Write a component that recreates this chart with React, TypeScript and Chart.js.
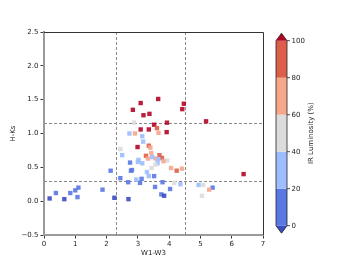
import React, { useEffect, useRef } from "react";
import { Chart, registerables } from "chart.js";

Chart.register(...registerables);

// ---- data ----
const W1W3 = [
  3.65, 3.09, 4.47, 4.42, 2.84, 3.37, 3.18, 2.88, 3.93, 5.18,
  3.52, 3.61, 3.09, 3.35, 3.92, 2.73, 2.91, 3.66, 3.14, 3.17,
  2.44, 2.99, 3.35, 3.40, 2.50, 3.43, 3.26, 3.32, 3.69, 3.77,
  3.57, 3.46, 3.66, 3.94, 3.82, 3.02, 3.00, 3.14, 2.75, 3.63,
  3.56, 3.44, 4.06, 4.24, 4.41, 2.81, 2.78, 2.13, 3.29, 3.35,
  3.52, 6.38, 2.44, 2.95, 3.12, 2.69, 3.07, 3.79, 4.16, 4.36,
  3.55, 4.03, 4.94, 5.09, 5.39, 5.28, 5.05, 3.75, 3.84, 1.87,
  2.25, 2.70, 0.18, 0.38, 0.65, 0.84, 1.00, 1.10, 1.07,
];
const HKS = [
  1.51, 1.45, 1.44, 1.36, 1.35, 1.29, 1.27, 1.16, 1.16, 1.18,
  1.13, 1.08, 1.06, 1.06, 1.02, 1.00, 1.00, 1.01, 0.96, 0.88,
  0.77, 0.80, 0.82, 0.79, 0.68, 0.71, 0.67, 0.63, 0.68, 0.64,
  0.63, 0.65, 0.62, 0.60, 0.59, 0.61, 0.58, 0.56, 0.57, 0.56,
  0.54, 0.49, 0.49, 0.45, 0.48, 0.46, 0.45, 0.45, 0.43, 0.37,
  0.37, 0.40, 0.34, 0.32, 0.33, 0.28, 0.27, 0.28, 0.27, 0.25,
  0.21, 0.18, 0.24, 0.24, 0.20, 0.17, 0.08, 0.10, 0.08, 0.17,
  0.05, 0.03, 0.04, 0.12, 0.03, 0.12, 0.16, 0.20, 0.06,
];
const IR_LUM = [
  105, 105, 105, 105, 105, 105, 105, 50, 105, 105,
  105, 90, 105, 105, 105, 30, 70, 70, 30, 30,
  55, 105, 90, 70, 30, 70, 90, 70, 90, 90,
  70, 30, 30, 50, 70, 30, 30, 30, 10, 30,
  50, 50, 70, 90, 70, 10, 10, 10, 35, 30,
  10, 105, 10, 30, 10, 10, 10, 10, 55, 30,
  10, 10, 30, 55, 10, 70, 50, 10, -3, 10,
  -3, -3, -3, 10, -3, 10, 10, 10, 10,
];
const CBAR_BOUNDS = [0, 20, 40, 60, 80, 100];
const VLINES = [2.3, 4.5];
const HLINES = [0.3, 1.15];
const X_LABEL = "W1-W3";
const Y_LABEL = "H-Ks";
const CBAR_LABEL = "IR Luminosity (%)";

// ---- styling ----
const UNDER = "#3b4cc0";
const OVER = "#b40426";
const BIN_COLORS = ["#5a78e4", "#9dbdff", "#dcdcdc", "#f6a789", "#dd5e4a"];
const FONT = "'DejaVu Sans', sans-serif";

function colorFor(v: number): string {
  if (v < CBAR_BOUNDS[0]) return UNDER;
  if (v > CBAR_BOUNDS[CBAR_BOUNDS.length - 1]) return OVER;
  for (let i = 0; i < CBAR_BOUNDS.length - 1; i++) {
    if (v >= CBAR_BOUNDS[i] && v < CBAR_BOUNDS[i + 1]) return BIN_COLORS[i];
  }
  return BIN_COLORS[BIN_COLORS.length - 1];
}

function withAlpha(hex: string, a: number): string {
  const r = parseInt(hex.slice(1, 3), 16);
  const g = parseInt(hex.slice(3, 5), 16);
  const b = parseInt(hex.slice(5, 7), 16);
  return `rgba(${r},${g},${b},${a})`;
}

const overlayPlugin = {
  id: "overlay",
  beforeDatasetsDraw(chart: any) {
    const { ctx, chartArea, scales } = chart;
    const xs = scales.x;
    const ys = scales.y;
    ctx.save();
    ctx.strokeStyle = "#8a8a8a";
    ctx.lineWidth = 1;
    ctx.setLineDash([3, 2]);
    for (const v of VLINES) {
      const px = Math.round(xs.getPixelForValue(v)) + 0.5;
      ctx.beginPath();
      ctx.moveTo(px, chartArea.top);
      ctx.lineTo(px, chartArea.bottom);
      ctx.stroke();
    }
    for (const v of HLINES) {
      const py = Math.round(ys.getPixelForValue(v)) + 0.5;
      ctx.beginPath();
      ctx.moveTo(chartArea.left, py);
      ctx.lineTo(chartArea.right, py);
      ctx.stroke();
    }
    ctx.restore();
  },
  afterDraw(chart: any) {
    const { ctx, chartArea } = chart;
    ctx.save();
    // top and right spines
    ctx.strokeStyle = "#333333";
    ctx.lineWidth = 1;
    ctx.setLineDash([]);
    ctx.beginPath();
    ctx.moveTo(chartArea.left, chartArea.top + 0.5);
    ctx.lineTo(chartArea.right + 0.5, chartArea.top + 0.5);
    ctx.lineTo(chartArea.right + 0.5, chartArea.bottom);
    ctx.stroke();

    // axis labels
    ctx.fillStyle = "#222";
    ctx.font = `7px ${FONT}`;
    ctx.textAlign = "center";
    ctx.textBaseline = "middle";
    ctx.fillText(X_LABEL, (chartArea.left + chartArea.right) / 2, 253);
    ctx.save();
    ctx.translate(13.5, (chartArea.top + chartArea.bottom) / 2);
    ctx.rotate(-Math.PI / 2);
    ctx.fillText(Y_LABEL, 0, 0);
    ctx.restore();

    // colorbar
    const cx0 = 276;
    const cx1 = 287;
    const y0 = 225.7; // value 0
    const y100 = 40.7; // value 100
    const vmin = CBAR_BOUNDS[0];
    const vmax = CBAR_BOUNDS[CBAR_BOUNDS.length - 1];
    const yFor = (v: number) => y0 + ((v - vmin) / (vmax - vmin)) * (y100 - y0);
    for (let i = 0; i < CBAR_BOUNDS.length - 1; i++) {
      const ya = yFor(CBAR_BOUNDS[i]);
      const yb = yFor(CBAR_BOUNDS[i + 1]);
      ctx.fillStyle = BIN_COLORS[i];
      ctx.fillRect(cx0, yb, cx1 - cx0, ya - yb);
    }
    const arrowH = 7.5;
    ctx.fillStyle = OVER;
    ctx.beginPath();
    ctx.moveTo(cx0, y100);
    ctx.lineTo((cx0 + cx1) / 2, y100 - arrowH);
    ctx.lineTo(cx1, y100);
    ctx.closePath();
    ctx.fill();
    ctx.fillStyle = UNDER;
    ctx.beginPath();
    ctx.moveTo(cx0, y0);
    ctx.lineTo((cx0 + cx1) / 2, y0 + arrowH);
    ctx.lineTo(cx1, y0);
    ctx.closePath();
    ctx.fill();
    // outline
    ctx.strokeStyle = "#222";
    ctx.lineWidth = 0.8;
    ctx.beginPath();
    ctx.moveTo(cx0, y100);
    ctx.lineTo((cx0 + cx1) / 2, y100 - arrowH);
    ctx.lineTo(cx1, y100);
    ctx.lineTo(cx1, y0);
    ctx.lineTo((cx0 + cx1) / 2, y0 + arrowH);
    ctx.lineTo(cx0, y0);
    ctx.closePath();
    ctx.stroke();
    // ticks
    ctx.fillStyle = "#222";
    ctx.textAlign = "left";
    ctx.textBaseline = "middle";
    ctx.font = `7px ${FONT}`;
    ctx.lineWidth = 0.8;
    for (const b of CBAR_BOUNDS) {
      const y = yFor(b);
      ctx.beginPath();
      ctx.moveTo(cx1, y);
      ctx.lineTo(cx1 + 3, y);
      ctx.stroke();
      ctx.fillText(String(b), cx1 + 4.5, y + 0.5);
    }
    ctx.save();
    ctx.translate(311, (y0 + y100) / 2);
    ctx.rotate(-Math.PI / 2);
    ctx.textAlign = "center";
    ctx.fillText(CBAR_LABEL, 0, 0);
    ctx.restore();
    ctx.restore();
  },
};

export default function App() {
  const ref = useRef<HTMLCanvasElement | null>(null);
  useEffect(() => {
    document.body.style.margin = "0";
    const canvas = ref.current;
    if (!canvas) return;
    const points = W1W3.map((x, i) => ({ x, y: HKS[i] }));
    const colors = IR_LUM.map((v) => withAlpha(colorFor(v), 0.9));
    const chart = new Chart(canvas, {
      type: "scatter",
      data: {
        datasets: [
          {
            data: points,
            pointStyle: "rect",
            pointRadius: 3.1,
            pointBorderWidth: 0,
            pointBackgroundColor: colors,
            pointBorderColor: colors,
          } as any,
        ],
      },
      options: {
        animation: false,
        responsive: false,
        maintainAspectRatio: false,
        events: [],
        layout: { padding: { left: 0, right: 89, top: 32, bottom: 0 } },
        plugins: {
          legend: { display: false },
          tooltip: { enabled: false },
          title: { display: false },
        },
        scales: {
          x: {
            type: "linear",
            min: 0,
            max: 7,
            afterFit: (s: any) => {
              s.height = 29;
            },
            ticks: {
              stepSize: 1,
              color: "#222",
              font: { family: FONT, size: 7 },
              padding: 1,
              maxRotation: 0,
              callback: (v: any) => String(v),
            },
            grid: {
              drawOnChartArea: false,
              drawTicks: true,
              tickLength: 3.5,
              color: "#333",
            },
            border: { display: true, color: "#9a9a9a", width: 2 },
          },
          y: {
            type: "linear",
            min: -0.5,
            max: 2.5,
            afterFit: (s: any) => {
              s.width = 44;
            },
            ticks: {
              stepSize: 0.5,
              color: "#222",
              font: { family: FONT, size: 7 },
              padding: 2,
              callback: (v: any) => Number(v).toFixed(1).replace("-", "\u2212"),
            },
            grid: {
              drawOnChartArea: false,
              drawTicks: true,
              tickLength: 3.5,
              color: "#333",
            },
            border: { display: true, color: "#9a9a9a", width: 2 },
          },
        },
      },
      plugins: [overlayPlugin],
    });
    return () => chart.destroy();
  }, []);
  return (
    <div style={{ position: "absolute", left: 0, top: 0, width: 352, height: 264, background: "#fff" }}>
      <canvas ref={ref} width={352} height={264} style={{ width: 352, height: 264, display: "block" }} />
    </div>
  );
}
